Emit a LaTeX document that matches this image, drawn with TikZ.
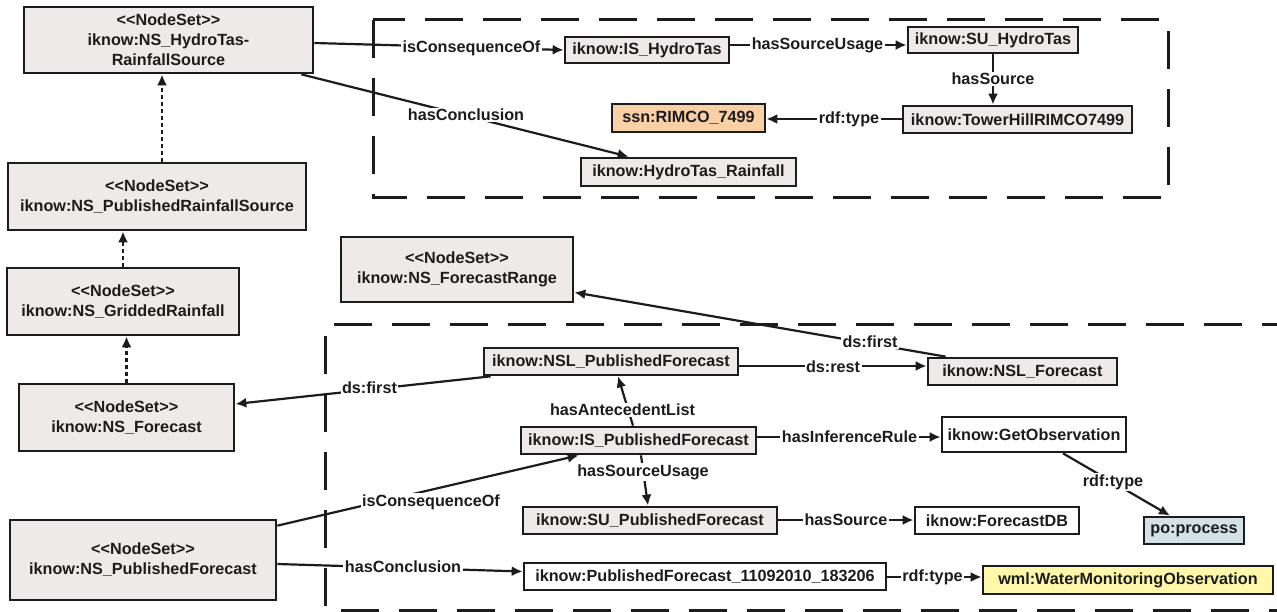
\documentclass[tikz,border=0pt]{standalone}
\usepackage{fontspec}
\setmainfont{Liberation Sans}
\usetikzlibrary{arrows.meta,calc}
\definecolor{boxgray}{HTML}{EEEAEA}
\definecolor{orangefill}{HTML}{F9CFA5}
\definecolor{bluefill}{HTML}{D4E2E8}
\definecolor{yellowfill}{HTML}{FFF8AA}
\definecolor{ink}{HTML}{1C1C1C}
\newcommand\ltlt{<\kern0pt<}
\newcommand\gtgt{>\kern0pt>}
\newcommand\labfont{\fontsize{16.2}{20}\selectfont\bfseries}
\tikzset{
  box/.style={draw=ink, line width=2.7pt, fill=boxgray, inner sep=0pt, align=center, font=\labfont, text=ink},
  wbox/.style={box, fill=white},
  edge/.style={draw=ink, line width=2.2pt, -{Latex[length=11pt,width=10pt]}},
  dep/.style={draw=ink, line width=2.5pt, dash pattern=on 4pt off 3pt, -{Latex[length=11pt,width=10pt]}},
  lbl/.style={fill=white, inner sep=1.5pt, font=\labfont, text=ink},
  frame/.style={draw=ink, line width=3pt, dash pattern=on 38pt off 20pt}
}
\begin{document}
\begin{tikzpicture}[x=1pt,y=-1pt]
\useasboundingbox[fill=white] (0,0) rectangle (1277,612);
% dashed frames
\draw[frame] (373,20) rectangle (1168,198);
\begin{scope}
\clip (0,0) rectangle (1277,612);
\draw[frame] (1300,325) -- (325,325) -- (325,610) -- (1300,610);
\end{scope}
% NodeSet boxes
\node[box, minimum width=289, minimum height=66] (nsHT) at (168.5,40) {\ltlt NodeSet\gtgt\\iknow:NS\_HydroTas-\\RainfallSource};
\node[box, minimum width=298, minimum height=67] (nsPRS) at (157,196.5) {\ltlt NodeSet\gtgt\\iknow:NS\_PublishedRainfallSource};
\node[box, minimum width=232, minimum height=67] (nsGR) at (123,301.5) {\ltlt NodeSet\gtgt\\iknow:NS\_GriddedRainfall};
\node[box, minimum width=215, minimum height=67] (nsF) at (126.5,417.5) {\ltlt NodeSet\gtgt\\iknow:NS\_Forecast};
\node[box, minimum width=266, minimum height=80] (nsPF) at (143,560) {\ltlt NodeSet\gtgt\\iknow:NS\_PublishedForecast};
\node[box, minimum width=232, minimum height=65] (nsFR) at (457,269.5) {\ltlt NodeSet\gtgt\\iknow:NS\_ForecastRange};
% top cluster
\node[box, minimum width=164, minimum height=26] (isHT) at (647,50) {iknow:IS\_HydroTas};
\node[box, minimum width=170, minimum height=26] (suHT) at (993,40) {iknow:SU\_HydroTas};
\node[box, minimum width=229, minimum height=27] (thR) at (1017.5,119.5) {iknow:TowerHillRIMCO7499};
\node[box, fill=orangefill, minimum width=153, minimum height=28] (ssn) at (688.5,118) {ssn:RIMCO\_7499};
\node[box, minimum width=215, minimum height=28] (htR) at (688.5,172) {iknow:HydroTas\_Rainfall};
% bottom cluster
\node[box, minimum width=254, minimum height=27] (nslPF) at (611,361.5) {iknow:NSL\_PublishedForecast};
\node[box, minimum width=189, minimum height=27] (nslF) at (1022.5,371.5) {iknow:NSL\_Forecast};
\node[box, minimum width=235, minimum height=27] (isPF) at (638.5,440.5) {iknow:IS\_PublishedForecast};
\node[wbox, minimum width=184, minimum height=35] (getObs) at (1034,434.5) {iknow:GetObservation};
\node[box, minimum width=254, minimum height=27] (suPF) at (650,520.5) {iknow:SU\_PublishedForecast};
\node[wbox, minimum width=164, minimum height=27] (fDB) at (997,520.5) {iknow:ForecastDB};
\node[box, fill=bluefill, minimum width=100, minimum height=27] (po) at (1194,530.5) {po:process};
\node[wbox, minimum width=362, minimum height=27] (pf) at (705,576.5) {iknow:PublishedForecast\_11092010\_183206};
\node[box, fill=yellowfill, minimum width=290, minimum height=28] (wmo) at (1128,580) {wml:WaterMonitoringObservation};
% dependency arrows
\coordinate (d1s) at ($(nsPRS.north)+(5,0)$);
\draw[dep] (d1s) -- (d1s |- nsHT.south);
\draw[dep] (nsGR.north) -- (nsGR.north |- nsPRS.south);
\draw[dep] (nsF.north) -- (nsF.north |- nsGR.south);
% top edges
\draw[edge] ($(nsHT.east)+(0,3)$) -- ($(isHT.west)$) node[lbl] (l1) at (471.5,48) {isConsequenceOf};
\draw[edge] ($(isHT.east)+(0,-5)$) -- ($(suHT.west)+(0,5)$) node[lbl] (l2) at (817.5,45) {hasSourceUsage};
\draw[edge] (suHT.south) -- (suHT.south |- thR.north) node[lbl] (l3) at (993,79) {hasSource};
\draw[edge] ($(thR.west)+(0,-0.5)$) -- ($(ssn.east)+(0,1)$) node[lbl] (l4) at (849,119) {rdf:type};
\draw[edge] ($(nsHT.south east)+(-13,0)$) -- ($(htR.north west)+(49,0)$) node[lbl] (l5) at (466,115) {hasConclusion};
% bottom edges
\draw[edge] ($(nslF.north west)+(19,0)$) -- ($(nsFR.south east)+(0,-11)$) node[lbl] (l6) at (870,342) {ds:first};
\draw[edge] ($(nslPF.east)+(0,4.5)$) -- ($(nslF.west)+(0,-5.5)$) node[lbl] (l7) at (833,367) {ds:rest};
\draw[edge] ($(nslPF.south west)+(8,0)$) -- ($(nsF.east)+(0,-13.5)$) node[lbl] (l8) at (369.5,388) {ds:first};
\draw[edge] ($(isPF.north)+(-5.5,0)$) -- ($(nslPF.south)+(7,0)$) node[lbl] (l9) at (622.5,410) {hasAntecedentList};
\draw[edge] ($(isPF.east)+(0,-3.5)$) -- ($(getObs.west)+(0,2.5)$) node[lbl] (l10) at (849.5,437) {hasInferenceRule};
\draw[edge] ($(isPF.south)+(2.5,0)$) -- ($(suPF.north)+(-2,0)$) node[lbl] (l11) at (643,472) {hasSourceUsage};
\draw[edge] ($(suPF.east)+(0,-0.5)$) -- ($(fDB.west)+(0,-0.5)$) node[lbl] (l12) at (846,520) {hasSource};
\draw[edge] ($(getObs.south)+(29,0)$) -- ($(po.north)+(-24,0)$) node[lbl] (l13) at (1113,482) {rdf:type};
\draw[edge] ($(nsPF.north east)+(0,7)$) -- ($(isPF.south west)+(59,0)$) node[lbl] (l14) at (431,502) {isConsequenceOf};
\draw[edge] ($(nsPF.east)+(0,4)$) -- ($(pf.west)+(0,-5)$) node[lbl] (l15) at (403,567) {hasConclusion};
\draw[edge] ($(pf.east)+(0,0.5)$) -- ($(wmo.west)+(0,-3)$) node[lbl] (l16) at (932.5,577) {rdf:type};
\end{tikzpicture}
\end{document}
